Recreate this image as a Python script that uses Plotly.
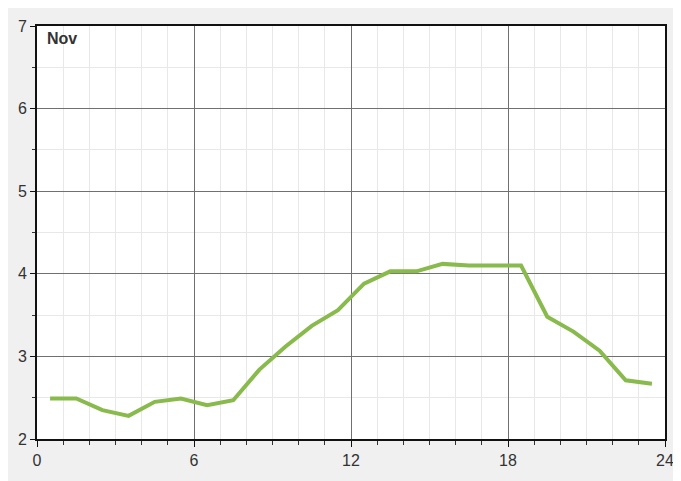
import plotly.graph_objects as go

hours = [0.5, 1.5, 2.5, 3.5, 4.5, 5.5, 6.5, 7.5, 8.5, 9.5, 10.5, 11.5,
         12.5, 13.5, 14.5, 15.5, 16.5, 17.5, 18.5, 19.5, 20.5, 21.5, 22.5, 23.5]
values = [2.49, 2.49, 2.35, 2.28, 2.45, 2.49, 2.41, 2.47, 2.84, 3.12, 3.37, 3.56,
          3.88, 4.03, 4.03, 4.12, 4.10, 4.10, 4.10, 3.48, 3.30, 3.07, 2.71, 2.67]
x_ticks = [0, 6, 12, 18, 24]
y_ticks = [2, 3, 4, 5, 6, 7]
label = "Nov"

fig = go.Figure()
fig.add_trace(go.Scatter(x=hours, y=values, mode="lines",
                         line=dict(color="#88ba4c", width=4),
                         showlegend=False, hoverinfo="skip"))

font = dict(family="Liberation Sans, Arial, sans-serif", size=16, color="#333333")

fig.update_layout(
    width=681, height=481,
    margin=dict(l=27, r=24, t=10, b=50),
    paper_bgcolor="#f0f0f0",
    plot_bgcolor="#ffffff",
    font=font,
    xaxis=dict(range=[0, 24], tickvals=x_ticks, showgrid=True, gridcolor="#707070",
               gridwidth=1, showline=True, linecolor="#111111", linewidth=2, mirror=True,
               ticks="outside", ticklen=6, tickcolor="#111111", zeroline=False,
               minor=dict(dtick=1, showgrid=True, gridcolor="#e8e8e8", ticks="outside",
                          ticklen=4, tickcolor="#333333")),
    yaxis=dict(range=[2, 7], tickvals=y_ticks, showgrid=True, gridcolor="#707070",
               gridwidth=1, showline=True, linecolor="#111111", linewidth=2, mirror=True,
               ticks="outside", ticklen=5, tickcolor="#111111", zeroline=False,
               minor=dict(dtick=0.5, showgrid=True, gridcolor="#e8e8e8", ticks="outside",
                          ticklen=3, tickcolor="#333333")),
    annotations=[dict(text="<b>" + label + "</b>", xref="paper", yref="paper",
                      x=0.012, y=0.995, xanchor="left", yanchor="top", showarrow=False,
                      font=dict(family="Liberation Sans, Arial, sans-serif", size=16,
                                color="#333333"))],
)

fig.write_html("out.html")
